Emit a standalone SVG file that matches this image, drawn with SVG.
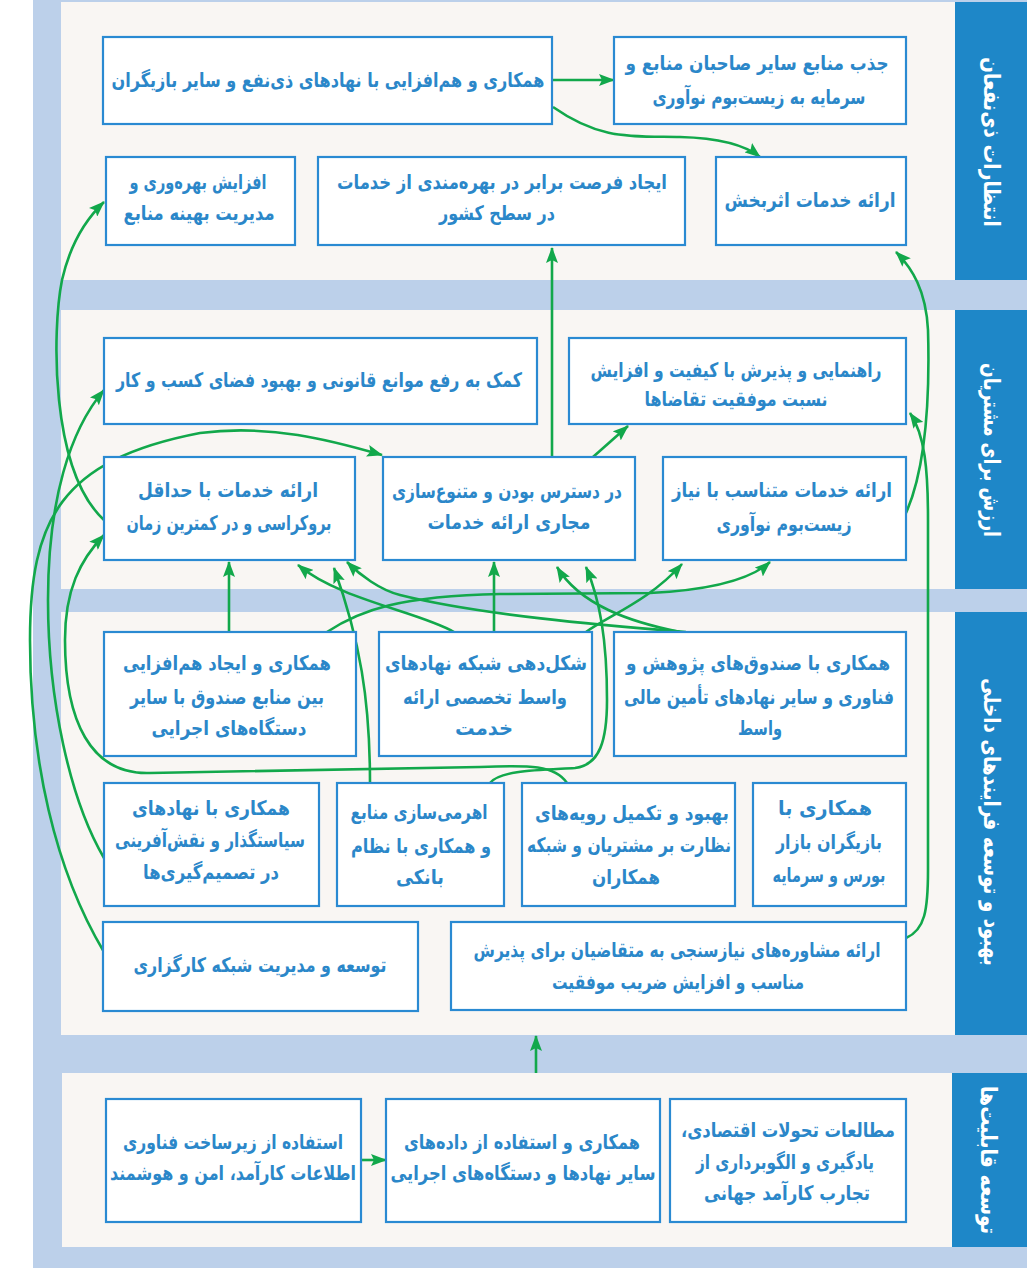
<svg xmlns="http://www.w3.org/2000/svg" width="1027" height="1268" viewBox="0 0 1027 1268">
  <defs>
    <marker id="ah" viewBox="0 0 16 12" refX="15" refY="6" markerWidth="16" markerHeight="12" markerUnits="userSpaceOnUse" orient="auto">
      <path d="M0,0 L16,6 L0,12 L3,6 z" fill="#12A84B"/>
    </marker>
  </defs>
  <style>
    .band { fill: #F9F6F3; }
    .tag { fill: #1E87C8; }
    .tagtxt { fill: #FFFFFF; font-family: "DejaVu Sans", sans-serif; font-weight: bold; font-size: 23px; text-anchor: middle; }
    .box { fill: #FFFFFF; stroke: #2A8AD2; stroke-width: 2.2; }
    .lbl { fill: #2B87C9; font-family: "DejaVu Sans", sans-serif; font-weight: bold; font-size: 20px; text-anchor: middle; }
    .c { fill: none; stroke: #12A84B; stroke-width: 2.6; marker-end: url(#ah); }
  </style>

  <!-- page background and section bands -->
  <rect x="0" y="0" width="1027" height="1268" fill="#FFFFFF"/>
  <rect x="33" y="0" width="994" height="1268" fill="#BCD0EA"/>
  <rect class="band" x="61" y="2" width="894" height="278"/>
  <rect class="band" x="61" y="310" width="894" height="279"/>
  <rect class="band" x="61" y="612" width="894" height="423"/>
  <rect class="band" x="62" y="1073" width="890" height="174"/>

  <!-- section titles -->
  <g id="tag-stakeholders">
    <rect class="tag" x="955" y="2" width="72" height="278"/>
    <text class="tagtxt" direction="rtl" transform="translate(991,142) rotate(90)" dy="7" textLength="170" lengthAdjust="spacingAndGlyphs">انتظارات ذی&#x200C;نفعان</text>
  </g>
  <g id="tag-customers">
    <rect class="tag" x="955" y="310" width="72" height="279"/>
    <text class="tagtxt" direction="rtl" transform="translate(991,450) rotate(90)" dy="7" textLength="174" lengthAdjust="spacingAndGlyphs">ارزش برای مشتریان</text>
  </g>
  <g id="tag-processes">
    <rect class="tag" x="955" y="612" width="72" height="423"/>
    <text class="tagtxt" direction="rtl" transform="translate(991,822) rotate(90)" dy="7" textLength="288" lengthAdjust="spacingAndGlyphs">بهبود و توسعه فرایندهای داخلی</text>
  </g>
  <g id="tag-capabilities">
    <rect class="tag" x="952" y="1073" width="75" height="174"/>
    <text class="tagtxt" direction="rtl" transform="translate(988,1160) rotate(90)" dy="7" textLength="148" lengthAdjust="spacingAndGlyphs">توسعه قابلیت&#x200C;ها</text>
  </g>

  <!-- connectors -->
  <g id="connectors">
    <path class="c" d="M552,80 L614,80"/>
    <path class="c" d="M553,107 C600,140 630,136 680,137 C720,138 745,145 760,157"/>
    <path class="c" d="M552,457 L552,248"/>
    <path class="c" d="M593,457 L628,426"/>
    <path class="c" d="M906,513 C925,470 930,400 928,330 C926,290 912,268 896,252"/>
    <path class="c" d="M906,938 C925,930 928,910 928,870 L928,520 C928,470 925,435 910,413"/>
    <path class="c" d="M104,520 C50,470 52,330 62,280 C70,245 85,220 104,202"/>
    <path class="c" d="M104,858 C70,800 48,700 48,600 C48,500 70,430 104,390"/>
    <path class="c" d="M104,952 C55,870 30,760 30,640 C30,520 60,460 200,433 C270,424 330,440 382,455"/>
    <path class="c" d="M567,783 C555,765 530,765 480,767 L150,773 C90,775 65,720 65,640 C65,590 80,560 104,535"/>
    <path class="c" d="M229,632 L229,562"/>
    <path class="c" d="M327,632 C360,610 400,596 500,594 L650,593 C710,590 750,580 770,562"/>
    <path class="c" d="M454,632 C420,612 340,600 298,565"/>
    <path class="c" d="M370,783 C370,700 360,640 334,568"/>
    <path class="c" d="M686,632 C600,625 480,615 400,595 C380,590 360,575 347,562"/>
    <path class="c" d="M494,632 L494,562"/>
    <path class="c" d="M680,632 C630,622 580,605 557,567"/>
    <path class="c" d="M490,783 C500,770 540,770 575,768 C600,765 607,740 607,700 C607,640 600,600 586,567"/>
    <path class="c" d="M586,632 C610,615 650,600 682,564"/>
    <path class="c" d="M361,1160 L386,1160"/>
    <path class="c" d="M536,1073 L536,1036"/>
  </g>

  <!-- stakeholder expectations -->
  <g id="n-synergy">
    <rect class="box" x="103" y="37" width="449" height="87"/>
    <text class="lbl" direction="rtl" x="328" y="87" textLength="433" lengthAdjust="spacingAndGlyphs">همکاری و هم&#x200C;افزایی با نهادهای ذی&#x200C;نفع و سایر بازیگران</text>
  </g>
  <g id="n-attract">
    <rect class="box" x="614" y="37" width="292" height="87"/>
    <text class="lbl" direction="rtl" x="757" y="70" textLength="263" lengthAdjust="spacingAndGlyphs">جذب منابع سایر صاحبان منابع و</text>
    <text class="lbl" direction="rtl" x="759" y="104" textLength="213" lengthAdjust="spacingAndGlyphs">سرمایه به زیست&#x200C;بوم نوآوری</text>
  </g>
  <g id="n-productivity">
    <rect class="box" x="106" y="157" width="189" height="88"/>
    <text class="lbl" direction="rtl" x="198" y="189" textLength="137" lengthAdjust="spacingAndGlyphs">افزایش بهره&#x200C;وری و</text>
    <text class="lbl" direction="rtl" x="199" y="220" textLength="151" lengthAdjust="spacingAndGlyphs">مدیریت بهینه منابع</text>
  </g>
  <g id="n-equal">
    <rect class="box" x="318" y="157" width="367" height="88"/>
    <text class="lbl" direction="rtl" x="502" y="189" textLength="330" lengthAdjust="spacingAndGlyphs">ایجاد فرصت برابر در بهره&#x200C;مندی از خدمات</text>
    <text class="lbl" direction="rtl" x="497" y="220" textLength="116" lengthAdjust="spacingAndGlyphs">در سطح کشور</text>
  </g>
  <g id="n-effective">
    <rect class="box" x="716" y="157" width="190" height="88"/>
    <text class="lbl" direction="rtl" x="810" y="207" textLength="171" lengthAdjust="spacingAndGlyphs">ارائه خدمات اثربخش</text>
  </g>

  <!-- customer value -->
  <g id="n-legal">
    <rect class="box" x="104" y="338" width="433" height="86"/>
    <text class="lbl" direction="rtl" x="319" y="387" textLength="406" lengthAdjust="spacingAndGlyphs">کمک به رفع موانع قانونی و بهبود فضای کسب و کار</text>
  </g>
  <g id="n-guidance">
    <rect class="box" x="569" y="338" width="337" height="86"/>
    <text class="lbl" direction="rtl" x="736" y="377" textLength="291" lengthAdjust="spacingAndGlyphs">راهنمایی و پذیرش با کیفیت و افزایش</text>
    <text class="lbl" direction="rtl" x="736" y="406" textLength="183" lengthAdjust="spacingAndGlyphs">نسبت موفقیت تقاضاها</text>
  </g>
  <g id="n-bureaucracy">
    <rect class="box" x="104" y="457" width="251" height="103"/>
    <text class="lbl" direction="rtl" x="228" y="497" textLength="180" lengthAdjust="spacingAndGlyphs">ارائه خدمات با حداقل</text>
    <text class="lbl" direction="rtl" x="229" y="530" textLength="205" lengthAdjust="spacingAndGlyphs">بروکراسی و در کمترین زمان</text>
  </g>
  <g id="n-channels">
    <rect class="box" x="383" y="457" width="252" height="103"/>
    <text class="lbl" direction="rtl" x="507" y="498" textLength="230" lengthAdjust="spacingAndGlyphs">در دسترس بودن و متنوع&#x200C;سازی</text>
    <text class="lbl" direction="rtl" x="509" y="529" textLength="163" lengthAdjust="spacingAndGlyphs">مجاری ارائه خدمات</text>
  </g>
  <g id="n-tailored">
    <rect class="box" x="663" y="457" width="243" height="103"/>
    <text class="lbl" direction="rtl" x="782" y="497" textLength="220" lengthAdjust="spacingAndGlyphs">ارائه خدمات متناسب با نیاز</text>
    <text class="lbl" direction="rtl" x="784" y="531" textLength="135" lengthAdjust="spacingAndGlyphs">زیست&#x200C;بوم نوآوری</text>
  </g>

  <!-- internal processes -->
  <g id="n-fund-synergy">
    <rect class="box" x="104" y="632" width="252" height="124"/>
    <text class="lbl" direction="rtl" x="227" y="670" textLength="208" lengthAdjust="spacingAndGlyphs">همکاری و ایجاد هم&#x200C;افزایی</text>
    <text class="lbl" direction="rtl" x="227" y="704" textLength="194" lengthAdjust="spacingAndGlyphs">بین منابع صندوق با سایر</text>
    <text class="lbl" direction="rtl" x="229" y="735" textLength="155" lengthAdjust="spacingAndGlyphs">دستگاه&#x200C;های اجرایی</text>
  </g>
  <g id="n-intermediaries">
    <rect class="box" x="379" y="632" width="213" height="124"/>
    <text class="lbl" direction="rtl" x="486" y="670" textLength="202" lengthAdjust="spacingAndGlyphs">شکل&#x200C;دهی شبکه نهادهای</text>
    <text class="lbl" direction="rtl" x="485" y="704" textLength="164" lengthAdjust="spacingAndGlyphs">واسط تخصصی ارائه</text>
    <text class="lbl" direction="rtl" x="484" y="735" textLength="58" lengthAdjust="spacingAndGlyphs">خدمت</text>
  </g>
  <g id="n-research-funds">
    <rect class="box" x="614" y="632" width="292" height="124"/>
    <text class="lbl" direction="rtl" x="758" y="670" textLength="264" lengthAdjust="spacingAndGlyphs">همکاری با صندوق&#x200C;های پژوهش و</text>
    <text class="lbl" direction="rtl" x="759" y="704" textLength="270" lengthAdjust="spacingAndGlyphs">فناوری و سایر نهادهای تأمین مالی</text>
    <text class="lbl" direction="rtl" x="760" y="735" textLength="44" lengthAdjust="spacingAndGlyphs">واسط</text>
  </g>
  <g id="n-policy">
    <rect class="box" x="104" y="783" width="215" height="123"/>
    <text class="lbl" direction="rtl" x="211" y="815" textLength="158" lengthAdjust="spacingAndGlyphs">همکاری با نهادهای</text>
    <text class="lbl" direction="rtl" x="210" y="847" textLength="190" lengthAdjust="spacingAndGlyphs">سیاستگذار و نقش&#x200C;آفرینی</text>
    <text class="lbl" direction="rtl" x="211" y="879" textLength="136" lengthAdjust="spacingAndGlyphs">در تصمیم&#x200C;گیری&#x200C;ها</text>
  </g>
  <g id="n-leverage">
    <rect class="box" x="337" y="783" width="167" height="123"/>
    <text class="lbl" direction="rtl" x="419" y="819" textLength="137" lengthAdjust="spacingAndGlyphs">اهرمی&#x200C;سازی منابع</text>
    <text class="lbl" direction="rtl" x="421" y="853" textLength="140" lengthAdjust="spacingAndGlyphs">و همکاری با نظام</text>
    <text class="lbl" direction="rtl" x="420" y="884" textLength="48" lengthAdjust="spacingAndGlyphs">بانکی</text>
  </g>
  <g id="n-supervision">
    <rect class="box" x="522" y="783" width="213" height="123"/>
    <text class="lbl" direction="rtl" x="632" y="820" textLength="194" lengthAdjust="spacingAndGlyphs">بهبود و تکمیل رویه&#x200C;های</text>
    <text class="lbl" direction="rtl" x="629" y="852" textLength="204" lengthAdjust="spacingAndGlyphs">نظارت بر مشتریان و شبکه</text>
    <text class="lbl" direction="rtl" x="626" y="884" textLength="68" lengthAdjust="spacingAndGlyphs">همکاران</text>
  </g>
  <g id="n-market">
    <rect class="box" x="753" y="783" width="153" height="123"/>
    <text class="lbl" direction="rtl" x="825" y="815" textLength="94" lengthAdjust="spacingAndGlyphs">همکاری با</text>
    <text class="lbl" direction="rtl" x="829" y="849" textLength="106" lengthAdjust="spacingAndGlyphs">بازیگران بازار</text>
    <text class="lbl" direction="rtl" x="829" y="882" textLength="113" lengthAdjust="spacingAndGlyphs">بورس و سرمایه</text>
  </g>
  <g id="n-consulting">
    <rect class="box" x="451" y="922" width="455" height="88"/>
    <text class="lbl" direction="rtl" x="677" y="957" textLength="407" lengthAdjust="spacingAndGlyphs">ارائه مشاوره&#x200C;های نیازسنجی به متقاضیان برای پذیرش</text>
    <text class="lbl" direction="rtl" x="678" y="989" textLength="252" lengthAdjust="spacingAndGlyphs">مناسب و افزایش ضریب موفقیت</text>
  </g>
  <g id="n-brokers">
    <rect class="box" x="103" y="922" width="315" height="89"/>
    <text class="lbl" direction="rtl" x="260" y="972" textLength="253" lengthAdjust="spacingAndGlyphs">توسعه و مدیریت شبکه کارگزاری</text>
  </g>

  <!-- capability development -->
  <g id="n-infrastructure">
    <rect class="box" x="106" y="1099" width="255" height="123"/>
    <text class="lbl" direction="rtl" x="233" y="1149" textLength="220" lengthAdjust="spacingAndGlyphs">استفاده از زیرساخت فناوری</text>
    <text class="lbl" direction="rtl" x="233" y="1180" textLength="246" lengthAdjust="spacingAndGlyphs">اطلاعات کارآمد، امن و هوشمند</text>
  </g>
  <g id="n-data">
    <rect class="box" x="386" y="1099" width="274" height="123"/>
    <text class="lbl" direction="rtl" x="522" y="1149" textLength="236" lengthAdjust="spacingAndGlyphs">همکاری و استفاده از داده&#x200C;های</text>
    <text class="lbl" direction="rtl" x="523" y="1180" textLength="265" lengthAdjust="spacingAndGlyphs">سایر نهادها و دستگاه&#x200C;های اجرایی</text>
  </g>
  <g id="n-studies">
    <rect class="box" x="670" y="1099" width="236" height="123"/>
    <text class="lbl" direction="rtl" x="788" y="1137" textLength="214" lengthAdjust="spacingAndGlyphs">مطالعات تحولات اقتصادی،</text>
    <text class="lbl" direction="rtl" x="785" y="1169" textLength="178" lengthAdjust="spacingAndGlyphs">یادگیری و الگوبرداری از</text>
    <text class="lbl" direction="rtl" x="787" y="1200" textLength="166" lengthAdjust="spacingAndGlyphs">تجارب کارآمد جهانی</text>
  </g>
</svg>
